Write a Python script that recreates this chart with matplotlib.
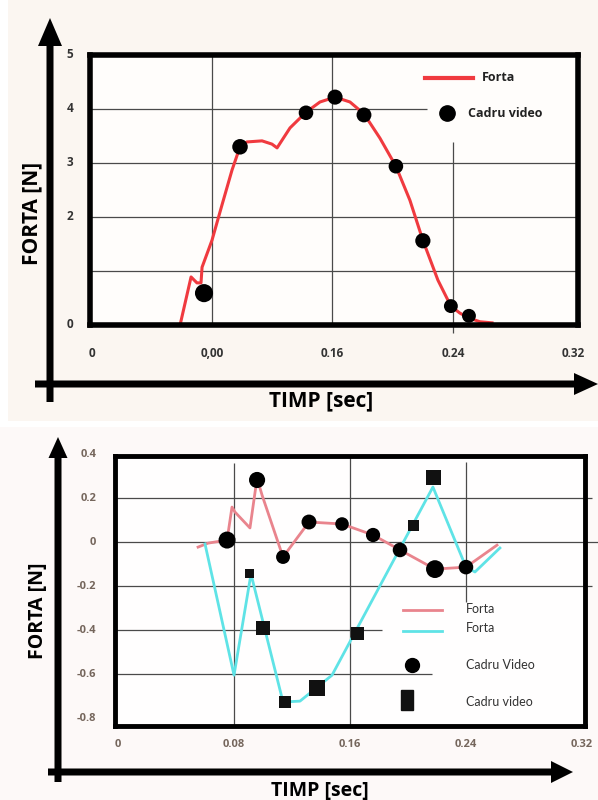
import matplotlib
matplotlib.use('Agg')
import matplotlib.pyplot as plt
from matplotlib.patches import FancyArrow, Rectangle
from matplotlib.markers import MarkerStyle
from matplotlib.transforms import Affine2D, blended_transform_factory

# upper plot: force curve and video frames
t_forta1 = [0.0588, 0.0661, 0.0700, 0.0727, 0.0734, 0.0800, 0.0866, 0.0933, 0.0986,
            0.1032, 0.1132, 0.1198, 0.1232, 0.1318, 0.1424, 0.1517, 0.1617, 0.1716,
            0.1809, 0.1915, 0.2021, 0.2114, 0.2200, 0.2300, 0.2386, 0.2446, 0.2506,
            0.2579, 0.2659]
f_forta1 = [0.00, 0.89, 0.78, 0.78, 1.07, 1.57, 2.22, 2.87, 3.30,
            3.39, 3.41, 3.35, 3.28, 3.65, 3.94, 4.13, 4.22, 4.13,
            3.91, 3.46, 2.94, 2.31, 1.57, 0.83, 0.35, 0.22, 0.13,
            0.06, 0.04]
t_cadru1 = [0.0747, 0.0986, 0.1424, 0.1617, 0.1809, 0.2021, 0.2200, 0.2386, 0.2506]
f_cadru1 = [0.59, 3.30, 3.93, 4.22, 3.89, 2.94, 1.56, 0.35, 0.17]

# lower plot: two force curves with their video frames
t_forta2a = [0.0552, 0.0621, 0.0752, 0.0786, 0.0807, 0.0910, 0.0959, 0.0993, 0.1138,
             0.1317, 0.1545, 0.1759, 0.1945, 0.2186, 0.2400, 0.2614]
f_forta2a = [-0.023, -0.005, 0.009, 0.159, 0.136, 0.064, 0.291, 0.214, -0.068,
             0.091, 0.082, 0.032, -0.036, -0.123, -0.114, -0.014]
t_forta2b = [0.0600, 0.0800, 0.0917, 0.1138, 0.1255, 0.1476, 0.2172, 0.2400, 0.2462, 0.2634]
f_forta2b = [-0.009, -0.605, -0.145, -0.727, -0.723, -0.605, 0.250, -0.114, -0.136, -0.027]
t_cadru2a = [0.0752, 0.0959, 0.1138, 0.1317, 0.1545, 0.1759, 0.1945, 0.2186, 0.2400]
f_cadru2a = [0.009, 0.282, -0.068, 0.091, 0.082, 0.032, -0.036, -0.123, -0.114]
t_cadru2b = [0.0910, 0.1000, 0.1152, 0.1372, 0.1655, 0.2041, 0.2179]
f_cadru2b = [-0.141, -0.391, -0.727, -0.664, -0.414, 0.077, 0.295]

x_ticks = [0, 0.08, 0.16, 0.24, 0.32]
x_labels1 = ['0', '0,00', '0.16', '0.24', '0.32']
x_labels2 = ['0', '0.08', '0.16', '0.24', '0.32']
y_ticks1 = [5, 4, 3, 2, 0]
y_ticks2 = [0.4, 0.2, 0, -0.2, -0.4, -0.6, -0.8]
y_labels2 = ['0.4', '0.2', '0', '-0.2', '-0.4', '-0.6', '-0.8']

# marker areas (pt^2), the hand-placed frames are not all the same size
s_cadru1 = [170, 125, 110, 118, 115, 110, 120, 100, 100]
s_cadru2a = [150, 135, 100, 115, 95, 105, 110, 165, 110]
s_cadru2b = [42, 100, 74, 132, 88, 62, 117]

RED = '#f03a3f'
PINK = '#e9848d'
CYAN = '#5fe3e6'
GRID = '#4a4a4a'
W, H = 598, 800

plt.rcParams['font.family'] = ['Open Sans', 'DejaVu Sans']
fig = plt.figure(figsize=(W / 100, H / 100), dpi=100)
fig.patch.set_facecolor('white')

# background layer in pixel units for panels, arrows and axis titles
bg = fig.add_axes([0, 0, 1, 1], zorder=0)
bg.set_xlim(0, W)
bg.set_ylim(H, 0)
bg.axis('off')
bg.add_patch(Rectangle((8, 0), W - 8, 421, color='#fbf6f1', lw=0))
bg.add_patch(Rectangle((0, 427), W, H - 427, color='#fdf9f8', lw=0))
for x, y, dx, dy, hw, hl in [(50, 402, 0, -384, 24, 28), (35, 384, 563, 0, 22, 24),
                             (58, 782, 0, -345, 19, 21), (48, 772, 525, 0, 22, 22)]:
    bg.add_patch(FancyArrow(x, y, dx, dy, width=7, head_width=hw, head_length=hl,
                            length_includes_head=True, color='black', lw=0))
bg.text(321, 401, 'TIMP [sec]', ha='center', va='center', fontsize=15, fontweight='bold')
bg.text(32, 213, 'FORTA [N]', ha='center', va='center', rotation=90, fontsize=15, fontweight='bold')
bg.text(320, 791, 'TIMP [sec]', ha='center', va='center', fontsize=14, fontweight='bold')
bg.text(38, 611, 'FORTA [N]', ha='center', va='center', rotation=90, fontsize=14, fontweight='bold')


def frame(ax, lw):
    ax.set_xticks([])
    ax.set_yticks([])
    for s in ax.spines.values():
        s.set_linewidth(lw)
        s.set_color('black')
        s.set_zorder(5)


# ---- upper plot ----
ax1 = fig.add_axes([90 / W, 1 - 325 / H, 488 / W, 270 / H], zorder=1)
ax1.set_facecolor('#fffdfb')
ax1.set_xlim(-0.001, 0.323)
ax1.set_ylim(0, 5)
frame(ax1, 4)

gk = dict(color=GRID, lw=0.9, zorder=1)
ax1.hlines([1, 2, 3], -0.001, 0.323, **gk)
ax1.hlines(4, -0.001, 0.2227, **gk)
ax1.vlines([0.08, 0.16], 0, 5, **gk)
ax1.vlines(0.24, -0.15, 3.39, clip_on=False, **gk)

ax1.plot(t_forta1, f_forta1, color=RED, lw=2.2, zorder=3, solid_joinstyle='round')
ax1.scatter(t_cadru1, f_cadru1, s=s_cadru1, color='black', lw=0, zorder=4)

bx1 = blended_transform_factory(ax1.transData, ax1.transAxes)
for x, lab in zip(x_ticks, x_labels1):
    ax1.text(x, -0.107, lab, transform=bx1, ha='center', va='center',
             fontsize=8.5, fontweight='bold', color='#333333')
by1 = blended_transform_factory(ax1.transAxes, ax1.transData)
for y in y_ticks1:
    ax1.text(-0.041, y, str(y), transform=by1, ha='center', va='center',
             fontsize=8.5, fontweight='bold', color='#333333')

# legend
ax1.plot([0.686, 0.785], [0.915, 0.915], transform=ax1.transAxes, color=RED, lw=3, zorder=4)
ax1.text(0.803, 0.915, 'Forta', transform=ax1.transAxes, va='center',
         fontsize=9, fontweight='bold', color='#222222')
ax1.plot([0.7316], [0.785], 'o', transform=ax1.transAxes, color='black', ms=11, zorder=4)
ax1.text(0.775, 0.785, 'Cadru video', transform=ax1.transAxes, va='center',
         fontsize=9, fontweight='bold', color='#222222')

# ---- lower plot ----
ax2 = fig.add_axes([115 / W, 74 / H, 470 / W, 270 / H], zorder=1)
ax2.set_facecolor('#fffefe')
ax2.set_xlim(-0.0021, 0.3221)
ax2.set_ylim(-0.836, 0.391)
frame(ax2, 3.5)

ax2.hlines([0.2, -0.2], -0.0021, 0.327, clip_on=False, **gk)
ax2.hlines(0, -0.0021, 0.3314, clip_on=False, **gk)
ax2.hlines(-0.4, -0.0021, 0.182, **gk)
ax2.hlines(-0.6, -0.0021, 0.2166, **gk)
ax2.vlines(0.08, -0.836, 0.359, **gk)
ax2.vlines(0.16, -0.836, 0.391, **gk)
ax2.vlines(0.24, -0.273, 0.364, **gk)

ax2.plot(t_forta2a, f_forta2a, color=PINK, lw=2, zorder=3, solid_joinstyle='round')
ax2.plot(t_forta2b, f_forta2b, color=CYAN, lw=2, zorder=3, solid_joinstyle='round')
ax2.scatter(t_cadru2a, f_cadru2a, s=s_cadru2a, color='black', lw=0, zorder=4)
ax2.scatter(t_cadru2b, f_cadru2b, s=s_cadru2b, marker='s', color='#111111', lw=0, zorder=4)

bx2 = blended_transform_factory(ax2.transData, ax2.transAxes)
for x, lab in zip(x_ticks, x_labels2):
    ax2.text(x, -0.07, lab, transform=bx2, ha='center', va='center',
             fontsize=8, fontweight='bold', color='#75665c')
by2 = blended_transform_factory(ax2.transAxes, ax2.transData)
for y, lab in zip(y_ticks2, y_labels2):
    ax2.text(-0.04, y, lab, transform=by2, ha='right', va='center',
             fontsize=8, fontweight='bold', color='#75665c')

# legend
lk = dict(transform=ax2.transAxes, va='center', fontsize=9,
          family=['Lato', 'DejaVu Sans'], color='#333333')
ax2.plot([0.613, 0.696], [0.43, 0.43], transform=ax2.transAxes, color=PINK, lw=2, zorder=4)
ax2.plot([0.613, 0.696], [0.352, 0.352], transform=ax2.transAxes, color=CYAN, lw=2, zorder=4)
ax2.text(0.747, 0.433, 'Forta', **lk)
ax2.text(0.747, 0.363, 'Forta', **lk)
ax2.plot([0.632], [0.226], 'o', transform=ax2.transAxes, color='black', ms=10, zorder=4)
ax2.text(0.747, 0.226, 'Cadru Video', **lk)
tall_square = MarkerStyle('s', transform=Affine2D().scale(0.62, 1.0))
ax2.plot([0.621], [0.096], marker=tall_square, ls='none', transform=ax2.transAxes,
         color='#111111', ms=15, zorder=4)
ax2.text(0.747, 0.089, 'Cadru video', **lk)

fig.savefig('out.png', dpi=100)
